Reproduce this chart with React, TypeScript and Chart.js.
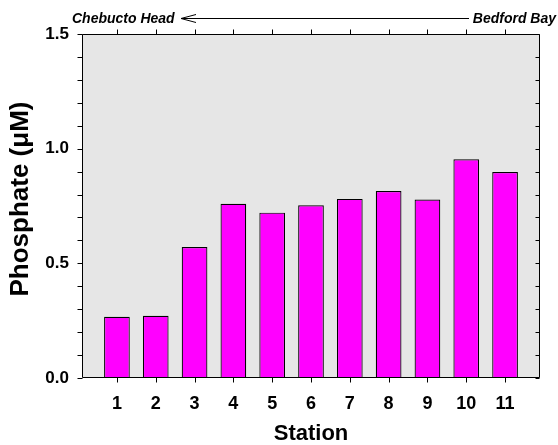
import React, { useEffect, useRef } from "react";
import { Chart, registerables } from "chart.js";

Chart.register(...registerables);

// Station numbers along the transect (Bedford Bay -> Chebucto Head runs right to left)
const stations = [1, 2, 3, 4, 5, 6, 7, 8, 9, 10, 11];
// Phosphate concentration at each station (µM)
const phosphate = [0.267, 0.271, 0.571, 0.76, 0.721, 0.753, 0.781, 0.815, 0.778, 0.954, 0.898];
// Labelled y values
const yTickValues = [0, 0.5, 1.0, 1.5];

const FONT = '"Liberation Sans", Arial, sans-serif';

// Plot frame, background, tick marks and free-standing text
const framePlugin = {
  id: "frame",
  beforeDraw(chart: any) {
    const { ctx, chartArea } = chart;
    ctx.save();
    ctx.fillStyle = "#e6e6e6";
    ctx.fillRect(chartArea.left, chartArea.top, chartArea.right - chartArea.left, chartArea.bottom - chartArea.top);
    ctx.restore();
  },
  afterDraw(chart: any) {
    const { ctx, chartArea } = chart;
    const xs = chart.scales.x;
    const ys = chart.scales.y;
    const L = Math.round(chartArea.left) + 0.5;
    const R = Math.round(chartArea.right) - 0.5;
    const T = Math.round(chartArea.top) + 0.5;
    const B = Math.round(chartArea.bottom) - 0.5;
    ctx.save();
    ctx.strokeStyle = "#000";
    ctx.lineWidth = 1;
    ctx.beginPath();
    ctx.rect(L, T, R - L, B - T);
    // minor ticks every 0.1 on left (outward) and right (inward)
    for (let i = 0; i <= 15; i++) {
      const y = Math.round(ys.getPixelForValue(i / 10)) + 0.5;
      ctx.moveTo(L - 5, y);
      ctx.lineTo(L, y);
      ctx.moveTo(R - 4, y);
      ctx.lineTo(R, y);
    }
    // station ticks on bottom and top, outward
    stations.forEach((s) => {
      const x = Math.round(xs.getPixelForValue(s)) + 0.5;
      ctx.moveTo(x, B);
      ctx.lineTo(x, B + 5);
      ctx.moveTo(x, T);
      ctx.lineTo(x, T - 5);
    });
    ctx.stroke();

    // transect direction annotation
    ctx.fillStyle = "#000";
    ctx.font = `italic bold 14px ${FONT}`;
    ctx.textBaseline = "alphabetic";
    ctx.textAlign = "left";
    ctx.fillText("Chebucto Head", 72, 23);
    ctx.textAlign = "right";
    ctx.fillText("Bedford Bay", 556, 23);
    ctx.beginPath();
    ctx.moveTo(181, 18.5);
    ctx.lineTo(469, 18.5);
    ctx.moveTo(196, 14.5);
    ctx.lineTo(181, 18.5);
    ctx.lineTo(196, 22.5);
    ctx.stroke();

    // y-axis title
    ctx.translate(21, 199);
    ctx.rotate(-Math.PI / 2);
    ctx.font = `bold 26px ${FONT}`;
    ctx.textAlign = "center";
    ctx.textBaseline = "middle";
    ctx.fillText("Phosphate (\u03bcM)", 0, 0);
    ctx.restore();
  },
};

export default function App() {
  const ref = useRef<HTMLCanvasElement | null>(null);

  useEffect(() => {
    if (!ref.current) return;
    const chart = new Chart(ref.current, {
      type: "bar",
      data: {
        datasets: [
          {
            data: stations.map((s, i) => ({ x: s, y: phosphate[i] })),
            backgroundColor: "#ff00ff",
            borderColor: "#000000",
            borderWidth: 1.2,
            barPercentage: 0.662,
            categoryPercentage: 1,
          },
        ],
      },
      options: {
        responsive: false,
        animation: false,
        layout: { padding: { top: 34, right: 18, left: 0, bottom: 0 } },
        plugins: { legend: { display: false }, tooltip: { enabled: false } },
        scales: {
          x: {
            type: "linear",
            position: "bottom",
            offset: false,
            min: 0.1,
            max: 11.9,
            afterBuildTicks: (scale: any) => {
              scale.ticks = stations.map((v) => ({ value: v }));
            },
            afterFit: (scale: any) => {
              scale.height = 67;
            },
            grid: { display: false, drawTicks: false, tickLength: 0 },
            border: { display: false },
            ticks: {
              padding: 15,
              color: "#000",
              font: { family: FONT, size: 18, weight: "bold" },
              callback: (v: any) => String(v),
            },
            title: {
              display: true,
              text: "Station",
              color: "#000",
              font: { family: FONT, size: 22, weight: "bold", lineHeight: 1 },
              padding: { top: 0, bottom: 0 },
            },
          },
          y: {
            type: "linear",
            min: 0,
            max: 1.5,
            afterBuildTicks: (scale: any) => {
              scale.ticks = yTickValues.map((v) => ({ value: v }));
            },
            afterFit: (scale: any) => {
              scale.width = 82;
            },
            grid: { display: false, drawTicks: false, tickLength: 0 },
            border: { display: false },
            ticks: {
              padding: 13,
              color: "#000",
              font: { family: FONT, size: 17, weight: "bold" },
              callback: (v: any) => Number(v).toFixed(1),
            },
          },
        },
      },
      plugins: [framePlugin],
    });
    return () => chart.destroy();
  }, []);

  return (
    <div style={{ position: "absolute", left: 0, top: 0, width: 558, height: 445 }}>
      <canvas ref={ref} width={558} height={445} style={{ display: "block" }} />
    </div>
  );
}
